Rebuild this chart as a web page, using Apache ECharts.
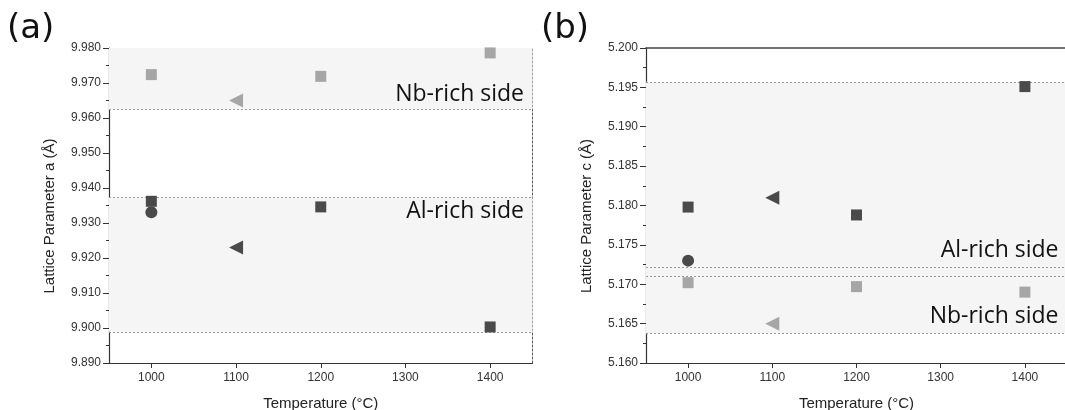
<!DOCTYPE html>
<html><head><meta charset="utf-8">
<script src="https://cdn.jsdelivr.net/npm/echarts@6/dist/echarts.min.js"></script>
<style>html,body{margin:0;padding:0;background:#fff}#c{width:1065px;height:410px}</style>
</head><body><div id="c"></div>
<script>
// ---- data ----
const xTicks = [1000, 1100, 1200, 1300, 1400];

// panel (a): lattice parameter a
const aYTicks = { min: 9.890, max: 9.980, step: 0.010 };
const aDarkSquares = [[1000, 9.9362], [1200, 9.9346], [1400, 9.9003]];
const aDarkCircles = [[1000, 9.9331]];
const aDarkTriangles = [[1100, 9.9230]];
const aLightSquares = [[1000, 9.9724], [1200, 9.9719], [1400, 9.9786]];
const aLightTriangles = [[1100, 9.9650]];
const aBoundaries = [9.9625, 9.9373, 9.8989];
const aBands = [[9.9625, 9.980], [9.8989, 9.9373]];
const aNotes = [['Nb-rich side', 9.9668], ['Al-rich side', 9.9334]];

// panel (b): lattice parameter c
const bYTicks = { min: 5.160, max: 5.200, step: 0.005 };
const bDarkSquares = [[1000, 5.1798], [1200, 5.1788], [1400, 5.1951]];
const bDarkCircles = [[1000, 5.1730]];
const bDarkTriangles = [[1100, 5.1810]];
const bLightSquares = [[1000, 5.1702], [1200, 5.1697], [1400, 5.1690]];
const bLightTriangles = [[1100, 5.1650]];
const bBoundaries = [5.1957, 5.1722, 5.1710, 5.1638];
const bBands = [[5.1638, 5.1957]];
const bNotes = [['Al-rich side', 5.1743], ['Nb-rich side', 5.1659]];

// ---- styles ----
const DARK = '#4a4a4a', LIGHT = '#a6a6a6', AXIS = '#333';
const tickFont = { fontFamily: 'Liberation Sans', fontSize: 12, color: '#333' };

function mainX(grid) {
  return {
    type: 'value', gridIndex: grid, min: 950, max: 1450, interval: 50,
    name: 'Temperature (°C)', nameLocation: 'middle', nameGap: 33,
    nameTextStyle: { fontFamily: 'Liberation Sans', fontSize: 15, color: '#222' },
    axisLine: { show: true, lineStyle: { color: AXIS, width: 1.2 } },
    axisTick: { show: true, customValues: xTicks, length: 5, lineStyle: { color: AXIS } },
    axisLabel: Object.assign({ customValues: xTicks, margin: 9, formatter: v => String(v) }, tickFont),
    splitLine: { show: false }
  };
}
function topX(grid, dotted) {
  return {
    type: 'value', gridIndex: grid, position: 'top', min: 950, max: 1450,
    axisLine: { show: true, lineStyle: { color: dotted ? '#555' : '#444', width: dotted ? 1 : 1.6, type: dotted ? [2, 2] : 'solid' } },
    axisTick: { show: false }, axisLabel: { show: false }, splitLine: { show: false }
  };
}
function mainY(grid, t, name) {
  return {
    type: 'value', gridIndex: grid, min: t.min, max: t.max, interval: t.step,
    name: name, nameLocation: 'middle', nameGap: 52, nameRotate: 90,
    nameTextStyle: { fontFamily: 'Liberation Sans', fontSize: 15, color: '#222', padding: [0, 21, 0, 0] },
    axisLine: { show: true, lineStyle: { color: AXIS, width: 1.2 } },
    axisTick: { show: true, length: 6, lineStyle: { color: AXIS } },
    minorTick: { show: true, splitNumber: 2, length: 3, lineStyle: { color: AXIS } },
    axisLabel: Object.assign({ margin: 8, formatter: v => v.toFixed(3) }, tickFont),
    splitLine: { show: false }
  };
}
function rightY(grid, t) {
  return {
    type: 'value', gridIndex: grid, position: 'right', min: t.min, max: t.max,
    axisLine: { show: true, lineStyle: { color: '#555', width: 1, type: [2, 2] } },
    axisTick: { show: false }, axisLabel: { show: false }, splitLine: { show: false }
  };
}
function scatter(xi, yi, data, symbol, color, size, rotate) {
  return {
    type: 'scatter', xAxisIndex: xi, yAxisIndex: yi, data: data,
    symbol: symbol, symbolSize: size, symbolRotate: rotate || 0,
    itemStyle: { color: color, opacity: 1 }, z: 5, silent: true
  };
}
function helper(xi, yi, bands, lines, notes) {
  return {
    type: 'scatter', xAxisIndex: xi, yAxisIndex: yi, data: [], silent: true, z: 1,
    markArea: {
      silent: true, itemStyle: { color: '#f5f5f5' },
      data: bands.map(b => [{ yAxis: b[0] }, { yAxis: b[1] }])
    },
    markLine: {
      silent: true, symbol: 'none', animation: false, precision: 5,
      lineStyle: { color: '#9a9a9a', width: 1, type: [2, 2] },
      label: { show: false },
      data: lines.map(v => ({ yAxis: v }))
    },
    markPoint: {
      silent: true, symbol: 'circle', symbolSize: 1,
      itemStyle: { color: 'rgba(0,0,0,0)' },
      label: { show: true, position: 'left', distance: 8, fontFamily: 'Open Sans', fontSize: 23, color: '#111' },
      data: notes.map(n => ({ coord: [1450, n[1]], value: n[0], label: { formatter: n[0] } }))
    }
  };
}

const option = {
  animation: false,
  backgroundColor: '#fff',
  title: [
    { text: '(a)', left: 2, top: 7, textStyle: { fontFamily: 'DejaVu Sans', fontSize: 34, fontWeight: 'normal', color: '#111' } },
    { text: '(b)', left: 536, top: 7, textStyle: { fontFamily: 'DejaVu Sans', fontSize: 34, fontWeight: 'normal', color: '#111' } }
  ],
  grid: [
    { left: 109, top: 48, width: 423.5, height: 315, outerBoundsMode: 'none', containLabel: false },
    { left: 646, top: 48, right: -2, height: 315, outerBoundsMode: 'none', containLabel: false }
  ],
  xAxis: [mainX(0), topX(0, true), mainX(1), topX(1, false)],
  yAxis: [mainY(0, aYTicks, 'Lattice Parameter a (Å)'), rightY(0, aYTicks), mainY(1, bYTicks, 'Lattice Parameter c (Å)')],
  series: [
    helper(0, 0, aBands, aBoundaries, aNotes),
    scatter(0, 0, aLightSquares, 'rect', LIGHT, 11),
    scatter(0, 0, aLightTriangles, 'triangle', LIGHT, 14, 90),
    scatter(0, 0, aDarkSquares, 'rect', DARK, 11),
    scatter(0, 0, aDarkCircles, 'circle', DARK, 12),
    scatter(0, 0, aDarkTriangles, 'triangle', DARK, 14, 90),
    helper(2, 2, bBands, bBoundaries, bNotes),
    scatter(2, 2, bLightSquares, 'rect', LIGHT, 11),
    scatter(2, 2, bLightTriangles, 'triangle', LIGHT, 14, 90),
    scatter(2, 2, bDarkSquares, 'rect', DARK, 11),
    scatter(2, 2, bDarkCircles, 'circle', DARK, 12),
    scatter(2, 2, bDarkTriangles, 'triangle', DARK, 14, 90)
  ]
};
const chart = echarts.init(document.getElementById('c'), null, { renderer: 'canvas' });
chart.setOption(option);
</script>
</body></html>
